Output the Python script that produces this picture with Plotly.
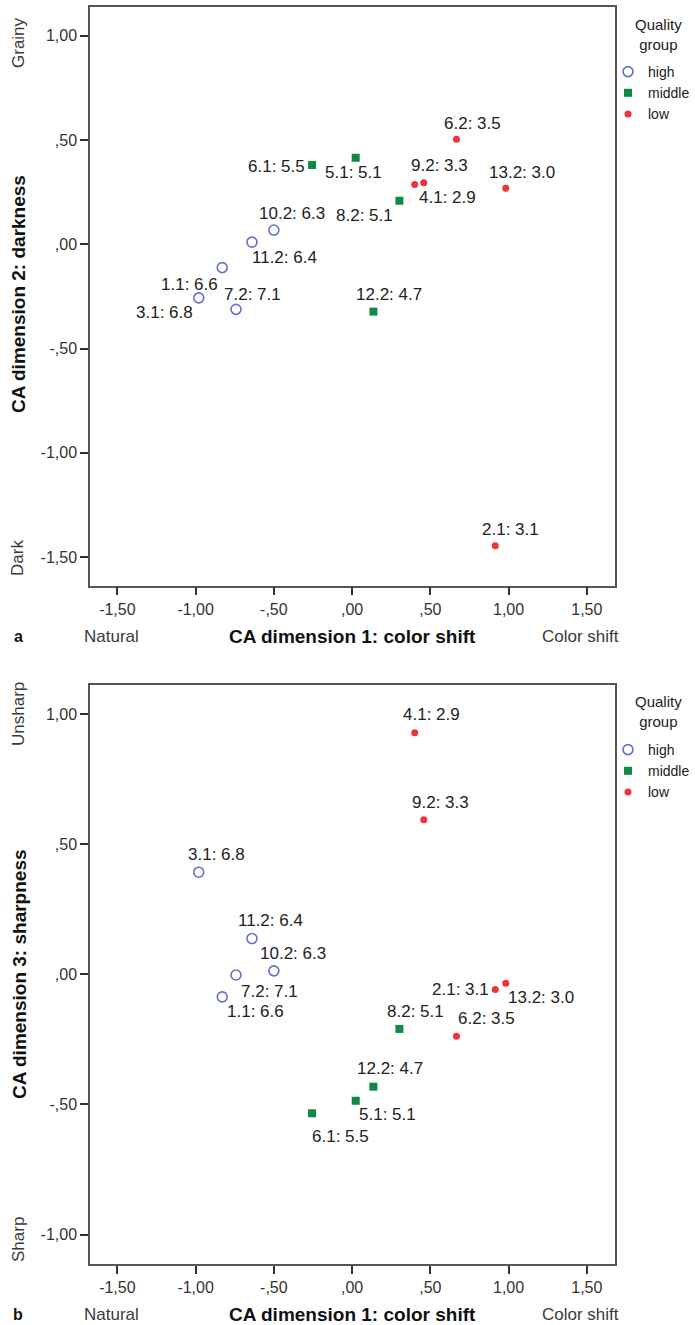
import plotly.graph_objects as go

# ---------------- data ----------------
ids = ["1.1", "3.1", "7.2", "10.2", "11.2",
       "5.1", "6.1", "8.2", "12.2",
       "2.1", "4.1", "6.2", "9.2", "13.2"]
scores = [6.6, 6.8, 7.1, 6.3, 6.4,
          5.1, 5.5, 5.1, 4.7,
          3.1, 2.9, 3.5, 3.3, 3.0]
groups = ["high", "high", "high", "high", "high",
          "middle", "middle", "middle", "middle",
          "low", "low", "low", "low", "low"]
dim1 = [-0.830, -0.980, -0.742, -0.500, -0.640,
        0.023, -0.256, 0.302, 0.136,
        0.915, 0.400, 0.667, 0.458, 0.982]
dim2 = [-0.112, -0.257, -0.312, 0.068, 0.010,
        0.415, 0.380, 0.209, -0.323,
        -1.445, 0.286, 0.503, 0.295, 0.269]
dim3 = [-0.087, 0.392, -0.003, 0.013, 0.137,
        -0.486, -0.534, -0.210, -0.432,
        -0.059, 0.928, -0.238, 0.593, -0.035]

group_order = ["high", "middle", "low"]
x_tickvals = [-1.5, -1.0, -0.5, 0.0, 0.5, 1.0, 1.5]
x_ticktext = ["-1,50", "-1,00", "-,50", ",00", ",50", "1,00", "1,50"]
y2_tickvals = [-1.5, -1.0, -0.5, 0.0, 0.5, 1.0]
y2_ticktext = ["-1,50", "-1,00", "-,50", ",00", ",50", "1,00"]
y3_tickvals = [-1.0, -0.5, 0.0, 0.5, 1.0]
y3_ticktext = ["-1,00", "-,50", ",00", ",50", "1,00"]

# ---------------- styles ----------------
W, H = 695, 1325
FONT = "Liberation Sans, Arial, sans-serif"
styles = {
    "high": dict(symbol="circle-open", size=10, color="#6272cc", line=dict(width=1.6, color="#6272cc")),
    "middle": dict(symbol="square", size=8, color="#0d8a43", line=dict(width=0)),
    "low": dict(symbol="circle", size=7, color="#f0333b", line=dict(width=0)),
}
# label offsets in pixels (dx right, dy up) per id, per panel
off_a = {"1.1": (-33, -17), "3.1": (-34, -15), "7.2": (16, 15), "10.2": (18, 17),
         "11.2": (33, -15), "5.1": (-2, -15), "6.1": (-36, -2), "8.2": (-35, -15),
         "12.2": (16, 17), "2.1": (15, 16), "4.1": (33, -13), "6.2": (16, 16),
         "9.2": (16, 17), "13.2": (16, 16)}
off_b = {"1.1": (33, -15), "3.1": (18, 18), "7.2": (33, -16), "10.2": (19, 17),
         "11.2": (19, 18), "5.1": (32, -14), "6.1": (28, -23), "8.2": (16, 17),
         "12.2": (17, 18), "2.1": (-35, 0), "4.1": (17, 18), "6.2": (30, 18),
         "9.2": (17, 17), "13.2": (35, -14)}

px = lambda p: p / W
py = lambda p: 1 - p / H

fig = go.Figure()

for g in group_order:
    idx = [i for i, gg in enumerate(groups) if gg == g]
    st = styles[g]
    for panel, yvals, yax, leg in [("a", dim2, "y", "legend"), ("b", dim3, "y2", "legend2")]:
        fig.add_trace(go.Scatter(
            x=[dim1[i] for i in idx], y=[yvals[i] for i in idx],
            mode="markers", name=g, xaxis="x" if panel == "a" else "x2", yaxis=yax,
            legend=leg, showlegend=True,
            marker=dict(symbol=st["symbol"], size=st["size"], color=st["color"], line=st["line"]),
            hoverinfo="skip",
        ))

annotations = []
for i, pid in enumerate(ids):
    txt = f"{pid}: {scores[i]:.1f}"
    for xr, yr, yv, off in [("x", "y", dim2[i], off_a), ("x2", "y2", dim3[i], off_b)]:
        dx, dy = off[pid]
        annotations.append(dict(x=dim1[i], y=yv, xref=xr, yref=yr, text=txt, showarrow=False,
                                xanchor="center", yanchor="middle", xshift=dx, yshift=dy,
                                font=dict(family=FONT, size=17, color="#222")))

side = dict(family=FONT, size=17, color="#3a3a3a")
bold = dict(family=FONT, size=19, color="#111")
def pa(x, y, text, font, angle=0, xanchor="center"):
    annotations.append(dict(x=px(x), y=py(y), xref="paper", yref="paper", text=text,
                            showarrow=False, textangle=angle, font=font,
                            xanchor=xanchor, yanchor="middle"))

legtitle = dict(family=FONT, size=15, color="#222")
# panel a decorations
pa(18, 43, "Grainy", side, -90)
pa(18, 558, "Dark", side, -90)
pa(19, 294, "<b>CA dimension 2: darkness</b>", bold, -90)
pa(18, 636, "<b>a</b>", dict(family=FONT, size=16, color="#111"))
pa(111, 636, "Natural", side)
pa(352, 636, "<b>CA dimension 1: color shift</b>", bold)
pa(580, 636, "Color shift", side)
pa(658, 34, "Quality<br>group", legtitle)
# panel b decorations
pa(18, 714, "Unsharp", side, -90)
pa(18, 1240, "Sharp", side, -90)
pa(19, 974, "<b>CA dimension 3: sharpness</b>", bold, -90)
pa(18, 1314, "<b>b</b>", dict(family=FONT, size=16, color="#111"))
pa(111, 1314, "Natural", side)
pa(352, 1314, "<b>CA dimension 1: color shift</b>", bold)
pa(580, 1314, "Color shift", side)
pa(658, 712, "Quality<br>group", legtitle)

axis_common = dict(showgrid=False, zeroline=False, showline=True, mirror=True,
                   linecolor="#555", linewidth=1.5, ticks="outside", ticklen=8,
                   tickwidth=1.5, tickcolor="#333",
                   tickfont=dict(family=FONT, size=16, color="#333"))

xdom = [px(90), px(615)]
leg_common = dict(font=dict(family=FONT, size=14, color="#222"), bgcolor="rgba(0,0,0,0)",
                  itemwidth=30, tracegroupgap=0, xanchor="left", yanchor="top")

fig.update_layout(
    width=W, height=H, margin=dict(l=0, r=0, t=0, b=0, autoexpand=False),
    paper_bgcolor="white", plot_bgcolor="white",
    xaxis=dict(domain=xdom, range=[-1.675, 1.68], tickvals=x_tickvals, ticktext=x_ticktext,
               anchor="y", **axis_common),
    yaxis=dict(domain=[py(585.7), py(7.3)], range=[-1.637, 1.136], tickvals=y2_tickvals,
               ticktext=y2_ticktext, anchor="x", **axis_common),
    xaxis2=dict(domain=xdom, range=[-1.675, 1.68], tickvals=x_tickvals, ticktext=x_ticktext,
                anchor="y2", **axis_common),
    yaxis2=dict(domain=[py(1264), py(685)], range=[-1.113, 1.111], tickvals=y3_tickvals,
                ticktext=y3_ticktext, anchor="x2", **axis_common),
    legend=dict(x=px(608), y=py(56), **leg_common),
    legend2=dict(x=px(608), y=py(734), **leg_common),
    annotations=annotations,
    showlegend=True,
)

fig.write_html("out.html")
